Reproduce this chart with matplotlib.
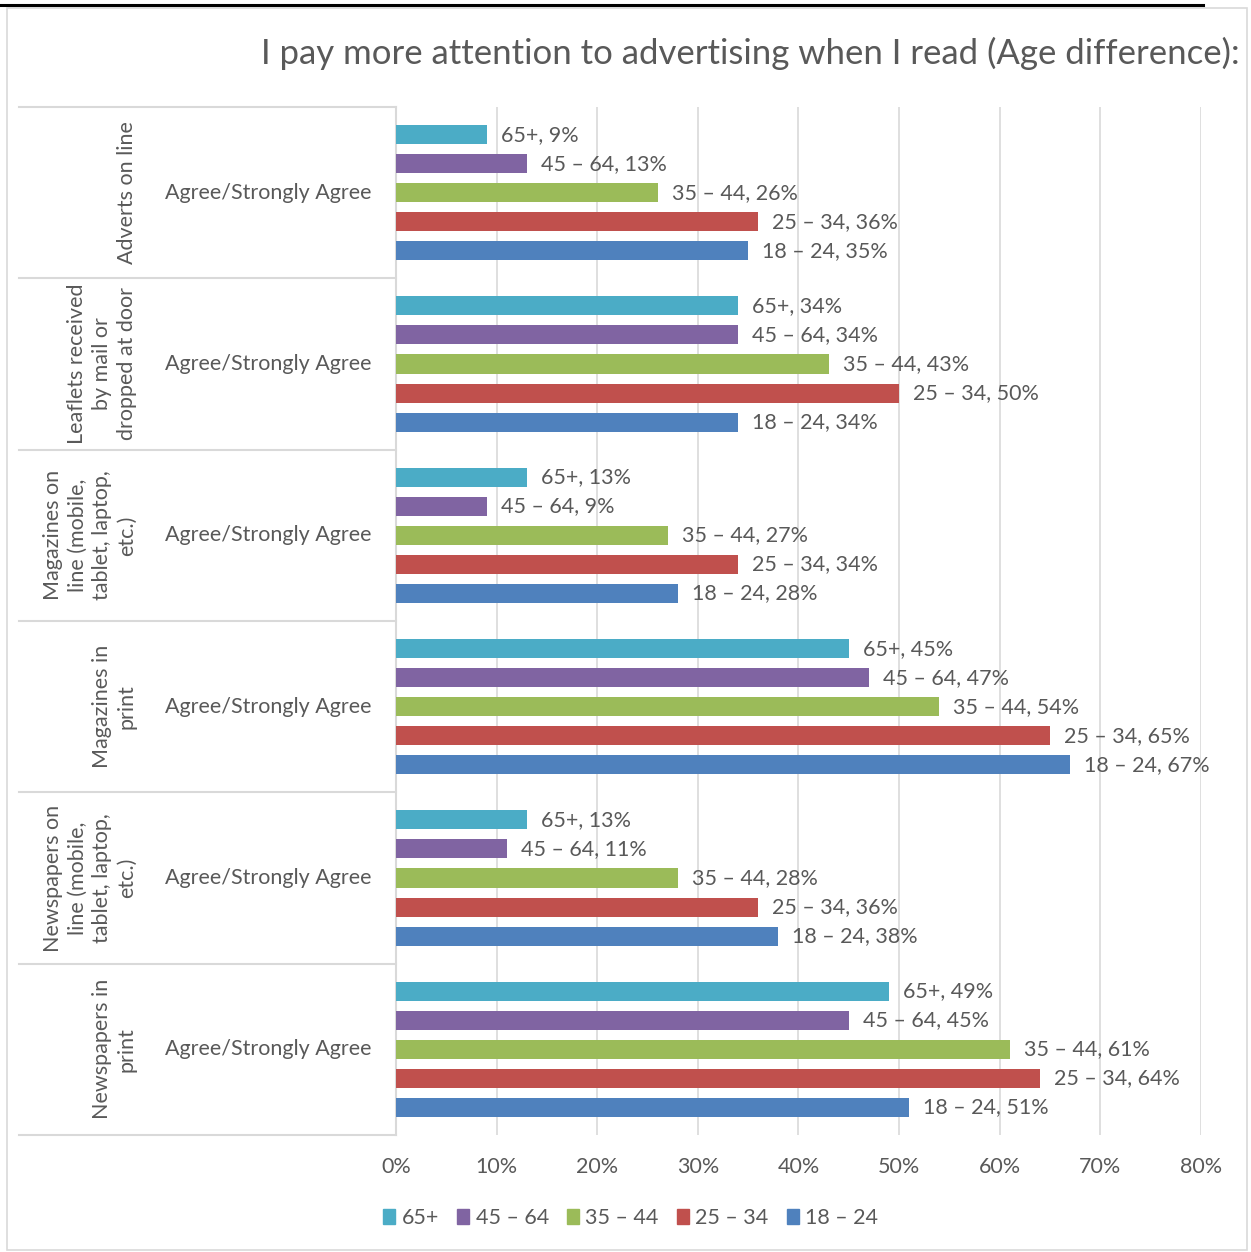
import matplotlib
matplotlib.use("Agg")
import matplotlib.pyplot as plt
from matplotlib.patches import Rectangle
from matplotlib.lines import Line2D
import numpy as np

categories = [
    "Adverts on line",
    "Leaflets received\nby mail or\ndropped at door",
    "Magazines on\nline (mobile,\ntablet, laptop,\netc.)",
    "Magazines in\nprint",
    "Newspapers on\nline (mobile,\ntablet, laptop,\netc.)",
    "Newspapers in\nprint",
]
sub_label = "Agree/Strongly Agree"
series = ["65+", "45 – 64", "35 – 44", "25 – 34", "18 – 24"]
v_65 = [9, 34, 13, 45, 13, 49]
v_45_64 = [13, 34, 9, 47, 11, 45]
v_35_44 = [26, 43, 27, 54, 28, 61]
v_25_34 = [36, 50, 34, 65, 36, 64]
v_18_24 = [35, 34, 28, 67, 38, 51]
values = [v_65, v_45_64, v_35_44, v_25_34, v_18_24]
colors = ["#4BACC6", "#8064A2", "#9BBB59", "#C0504D", "#4F81BD"]
xticks = [0, 10, 20, 30, 40, 50, 60, 70, 80]
title = "I pay more attention to advertising when I read (Age difference):"

FONT = ["Lato", "DejaVu Sans"]
TXT = "#595959"
GRID = "#D9D9D9"
FS = 15.5

W, H = 1251, 1252
fig = plt.figure(figsize=(W / 100, H / 100), dpi=100)
plt.rcParams["font.family"] = FONT

# frame
fig.add_artist(Rectangle((7 / W, 2 / H), (1247 - 7) / W, (1244 - 2) / H,
                         transform=fig.transFigure, fill=False, edgecolor=GRID, lw=1.2))
fig.add_artist(Line2D([0, 1203 / W], [1 - 5 / H, 1 - 5 / H], transform=fig.transFigure,
                      color="black", lw=2.2))

x0, x1 = 396, 1201
y0, y1 = 107, 1135
ax = fig.add_axes([x0 / W, 1 - y1 / H, (x1 - x0) / W, (y1 - y0) / H])
ax.set_xlim(0, 80)
ax.set_ylim(6, 0)

pitch = 29 / 171.3
bh = 19 / 171.3
for s, (name, vals, c) in enumerate(zip(series, values, colors)):
    ys = [g + 0.5 + (s - 2) * pitch for g in range(len(categories))]
    ax.barh(ys, vals, height=bh, color=c, zorder=3)
    for y, v in zip(ys, vals):
        ax.text(v + 1.4, y, f"{name}, {v}%", va="center", ha="left",
                fontsize=FS, color=TXT, zorder=4)

ax.set_xticks(xticks)
ax.set_xticklabels([f"{t}%" for t in xticks], fontsize=FS, color=TXT)
ax.tick_params(axis="x", length=0, pad=16)
ax.set_yticks([])
ax.grid(axis="x", color=GRID, lw=1.2, zorder=0)
for sp in ["top", "right", "bottom"]:
    ax.spines[sp].set_visible(False)
ax.spines["left"].set_color(GRID)
ax.spines["left"].set_linewidth(1.5)

# left category panel
axl = fig.add_axes([19 / W, 1 - y1 / H, (x0 - 19) / W, (y1 - y0) / H])
axl.set_xlim(19, x0)
axl.set_ylim(6, 0)
axl.axis("off")
for g in range(len(categories) + 1):
    axl.plot([19, x0], [g, g], color=GRID, lw=1.5, clip_on=False)
for g, cat in enumerate(categories):
    axl.text(137, g + 0.5, cat, rotation=90, ha="right", va="center",
             fontsize=FS, color=TXT, multialignment="center", linespacing=1.3)
    axl.text(268, g + 0.5, sub_label, ha="center", va="center", fontsize=FS, color=TXT)

fig.text(1240 / W, 1 - 53 / H, title, ha="right", va="center", fontsize=25, color=TXT)

handles = [Rectangle((0, 0), 1, 1, color=c) for c in colors]
fig.legend(handles, series, loc="center left", bbox_to_anchor=(364 / W, 1 - 1218 / H),
           ncol=5, frameon=False, fontsize=FS, handlelength=0.55, handleheight=0.75,
           handletextpad=0.3, columnspacing=0.85, labelcolor=TXT)

fig.savefig("out.png", dpi=100)
